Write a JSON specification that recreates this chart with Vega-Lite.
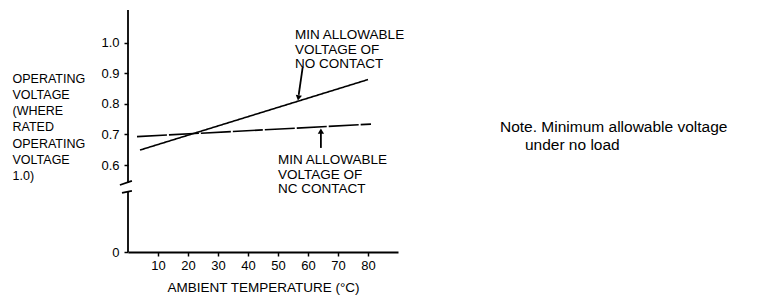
{
  "$schema": "https://vega.github.io/schema/vega-lite/v6.json",
  "autosize": "none",
  "width": 270,
  "height": 242,
  "padding": {"left": 128, "top": 10, "right": 367, "bottom": 49},
  "background": "white",
  "config": {
    "view": {"stroke": null},
    "font": "Liberation Sans",
    "axis": {"labelFont": "Liberation Sans", "titleFont": "Liberation Sans", "labelColor": "black", "titleColor": "black", "domainColor": "black", "tickColor": "black", "grid": false, "titleFontWeight": "normal"}
  },
  "datasets": {
    "lines": [
      {"series": "NO", "x": 4, "y": 0.649},
      {"series": "NO", "x": 80, "y": 0.88},
      {"series": "NC", "x": 3, "y": 0.693},
      {"series": "NC", "x": 81, "y": 0.734}
    ],
    "segments": [
      {"x": 0, "y": 0, "x2": 0, "y2": 0.414},
      {"x": 0, "y": 0.476, "x2": 0, "y2": 1.108},
      {"x": -2.7, "y": 0.462, "x2": 1.3, "y2": 0.49},
      {"x": -2.0, "y": 0.407, "x2": 1.3, "y2": 0.421},
      {"x": 58.2, "y": 0.918, "x2": 56.9, "y2": 0.83},
      {"x": 64.3, "y": 0.656, "x2": 64.3, "y2": 0.712}
    ],
    "headNO": [{"x": 56.8, "y": 0.82}],
    "headNC": [{"x": 64.3, "y": 0.711}],
    "annotations": [
      {"label": "MIN  ALLOWABLE\nVOLTAGE OF\nNO CONTACT", "x": 55.7, "y": 1.049},
      {"label": "MIN  ALLOWABLE\nVOLTAGE OF\nNC CONTACT", "x": 50, "y": 0.639}
    ],
    "notes": [
      {"label": "Note. Minimum allowable voltage", "x": 124, "y": 0.708},
      {"label": "under no load", "x": 132.3, "y": 0.65}
    ]
  },
  "encoding": {
    "x": {
      "field": "x", "type": "quantitative",
      "scale": {"domain": [0, 90], "nice": false, "zero": false},
      "axis": {
        "values": [10, 20, 30, 40, 50, 60, 70, 80],
        "title": "AMBIENT TEMPERATURE (°C)",
        "titleFontSize": 13.5,
        "titlePadding": 8,
        "labelFontSize": 13,
        "labelPadding": 3,
        "tickSize": 4,
        "tickWidth": 1.5,
        "domainWidth": 1.8
      }
    },
    "y": {
      "field": "y", "type": "quantitative",
      "scale": {"domain": [0, 0.6, 1.108], "range": [242, 155, 0], "nice": false, "zero": false},
      "axis": {
        "values": [0, 0.6, 0.7, 0.8, 0.9, 1.0],
        "labelExpr": "datum.value == 0 ? '0' : format(datum.value, '.1f')",
        "labelFontSize": 13,
        "labelPadding": 5,
        "tickSize": 4,
        "tickWidth": 1.5,
        "domain": false,
        "title": ["OPERATING", "VOLTAGE", "(WHERE", "RATED", "OPERATING", "VOLTAGE", "1.0)"],
        "titleAngle": 0,
        "titleAlign": "left",
        "titleBaseline": "top",
        "titleX": -116,
        "titleY": 62,
        "titleFontSize": 12.5,
        "titleLineHeight": 16.3
      }
    }
  },
  "layer": [
    {
      "data": {"name": "lines"},
      "mark": {"type": "line", "color": "black", "strokeWidth": 1.6},
      "encoding": {
        "detail": {"field": "series"},
        "strokeDash": {"field": "series", "type": "nominal", "scale": {"domain": ["NO", "NC"], "range": [[1, 0], [30, 2]]}, "legend": null}
      }
    },
    {
      "data": {"name": "segments"},
      "mark": {"type": "rule", "color": "black", "strokeWidth": 1.8},
      "encoding": {"x2": {"field": "x2"}, "y2": {"field": "y2"}}
    },
    {
      "data": {"name": "headNO"},
      "mark": {"type": "point", "shape": "triangle-down", "angle": 10, "filled": true, "color": "black", "opacity": 1, "size": 40},
      "encoding": {}
    },
    {
      "data": {"name": "headNC"},
      "mark": {"type": "point", "shape": "triangle-up", "filled": true, "color": "black", "opacity": 1, "size": 40},
      "encoding": {}
    },
    {
      "data": {"name": "annotations"},
      "mark": {"type": "text", "align": "left", "baseline": "top", "lineBreak": "\n", "lineHeight": 14.5, "fontSize": 13.5, "color": "black", "font": "Liberation Sans"},
      "encoding": {"text": {"field": "label"}}
    },
    {
      "data": {"name": "notes"},
      "mark": {"type": "text", "align": "left", "baseline": "alphabetic", "fontSize": 15.5, "color": "black", "font": "Liberation Sans"},
      "encoding": {"text": {"field": "label"}}
    }
  ]
}
